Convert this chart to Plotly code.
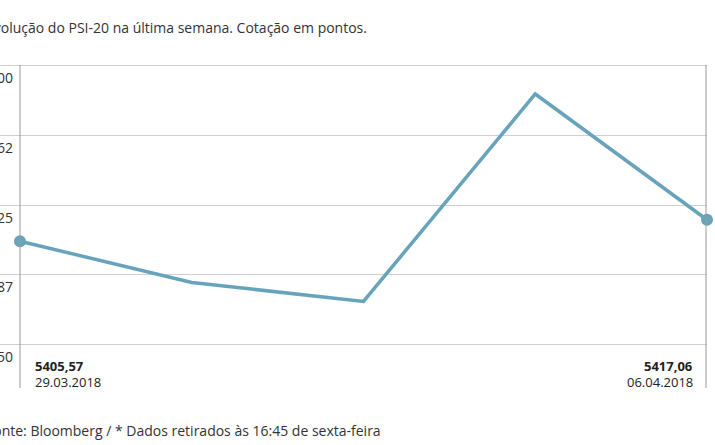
import plotly.graph_objects as go

dates = ["29.03.2018", "03.04.2018", "04.04.2018", "05.04.2018", "06.04.2018"]
values = [5405.57, 5383.4, 5373.2, 5484.6, 5417.06]
tick_vals = [5350, 5387.5, 5425, 5462.5, 5500]
tick_text = ["5350", "5387", "5425", "5462", "5500"]
title = "Evolução do PSI-20 na última semana. Cotação em pontos."
source = "Fonte: Bloomberg / * Dados retirados às 16:45 de sexta-feira"

FONT = "Open Sans"
LINE = "#68a3bc"
W, H = 715, 445
ml, mr, mt, mb = 0, 8, 56, 91
pw = W - ml - mr
ph = H - mt - mb
left_px = 20
unit = (pw - left_px) / (len(dates) - 1)
x_range = [-left_px / unit, len(dates) - 1]

x = list(range(len(dates)))

fig = go.Figure()
fig.add_trace(go.Scatter(
    x=x, y=values, mode="lines",
    line=dict(color=LINE, width=3.5), cliponaxis=False, hoverinfo="skip"))
fig.add_trace(go.Scatter(
    x=[x[0], x[-1]], y=[values[0], values[-1]], mode="markers",
    marker=dict(color=LINE, size=12), cliponaxis=False, hoverinfo="skip"))

def fmt(v):
    return f"{v:.2f}".replace(".", ",")

def py(pix):
    # pixel row (from top of picture) to paper y
    return (H - mb - pix) / ph

ann = []
for tv, tt in zip(tick_vals, tick_text):
    ann.append(dict(xref="paper", yref="y", x=15 / pw, y=tv, text=tt,
                    xanchor="right", yanchor="middle", yshift=-12, showarrow=False,
                    font=dict(family=FONT, size=14, color="#333")))
# endpoint labels
for xp, anchor, v, d in ((33, "left", values[0], dates[0]), (695, "right", values[-1], dates[-1])):
    ann.append(dict(xref="paper", yref="paper", x=xp / pw, y=py(366), text=f"<b>{fmt(v)}</b>",
                    xanchor=anchor, yanchor="middle", showarrow=False,
                    font=dict(family=FONT, size=13, color="#222")))
    ann.append(dict(xref="paper", yref="paper", x=xp / pw, y=py(382), text=d,
                    xanchor=anchor, yanchor="middle", showarrow=False,
                    font=dict(family=FONT, size=13, color="#222")))
# title and source
ann.append(dict(xref="paper", yref="paper", x=-16 / pw, y=py(27), text=title,
                xanchor="left", yanchor="middle", showarrow=False,
                font=dict(family=FONT, size=14, color="#333")))
ann.append(dict(xref="paper", yref="paper", x=-16 / pw, y=py(430), text=source,
                xanchor="left", yanchor="middle", showarrow=False,
                font=dict(family=FONT, size=14, color="#333")))

shapes = []
for px in (left_px, pw - 1):
    shapes.append(dict(type="line", xref="paper", yref="paper",
                       x0=px / pw, x1=px / pw, y0=py(388), y1=py(65),
                       line=dict(color="#999", width=1)))

fig.update_layout(
    width=W, height=H,
    margin=dict(l=ml, r=mr, t=mt, b=mb, pad=0),
    paper_bgcolor="white", plot_bgcolor="white",
    showlegend=False,
    xaxis=dict(range=x_range, showgrid=False, zeroline=False, showticklabels=False,
               showline=False, fixedrange=True),
    yaxis=dict(range=[5345, 5505], tickvals=tick_vals, showticklabels=False,
               showgrid=True, gridcolor="#d0d0d0", gridwidth=1, zeroline=False,
               showline=False, fixedrange=True),
    annotations=ann, shapes=shapes,
)

fig.write_html("out.html", config={"displayModeBar": False},
               post_script="document.body.style.margin='0';")
